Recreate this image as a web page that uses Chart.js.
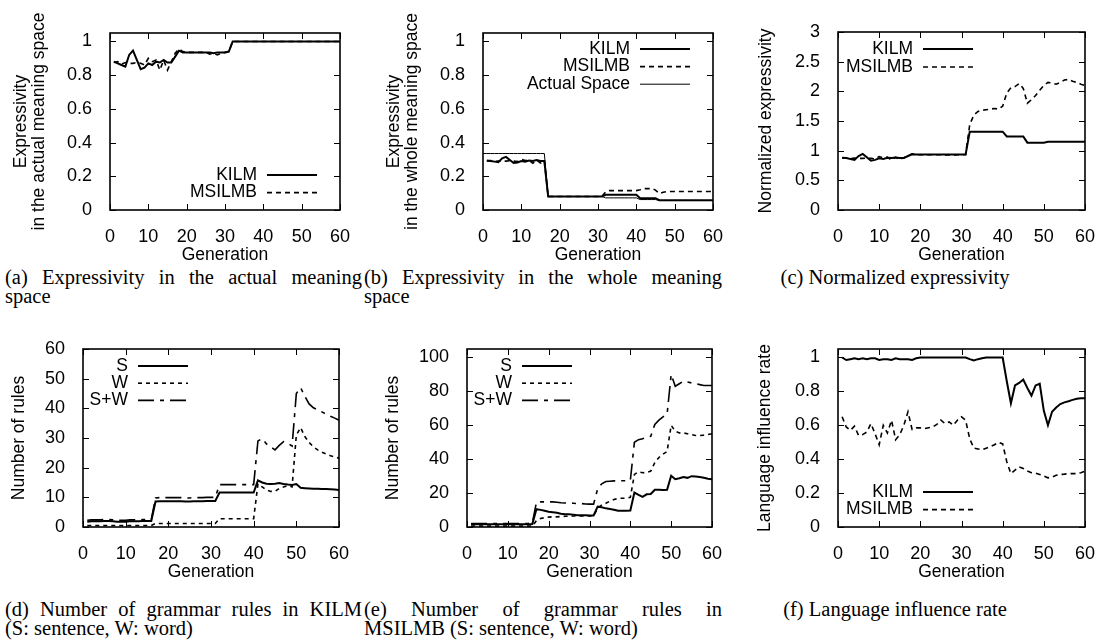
<!DOCTYPE html>
<html>
<head>
<meta charset="utf-8">
<script src="https://cdn.jsdelivr.net/npm/chart.js@4.4.0/dist/chart.umd.min.js"></script>
<style>
  body { margin: 0; background: #fff; width: 1098px; height: 642px; position: relative; overflow: hidden; }
  .panel { position: absolute; }
  .cap { position: absolute; font-family: "Liberation Serif", "Times New Roman", serif; font-size: 20.5px; line-height: 19px; color: #000; }
  .just { text-align: justify; text-align-last: justify; }
</style>
</head>
<body>

<div class="cap" style="left:5px; top:268px; width:357px;">
  <div class="just">(a) Expressivity in the actual meaning</div>
  <div>space</div>
</div>
<div class="cap" style="left:364px; top:268px; width:358px;">
  <div class="just">(b) Expressivity in the whole meaning</div>
  <div>space</div>
</div>
<div class="cap" style="left:732px; top:268px; width:326px; text-align:center;">
  <div>(c) Normalized expressivity</div>
</div>
<div class="cap" style="left:5px; top:600px; width:357px;">
  <div class="just">(d) Number of grammar rules in KILM</div>
  <div>(S: sentence, W: word)</div>
</div>
<div class="cap" style="left:364px; top:600px; width:358px;">
  <div class="just">(e) Number of grammar rules in</div>
  <div>MSILMB (S: sentence, W: word)</div>
</div>
<div class="cap" style="left:732px; top:600px; width:326px; text-align:center;">
  <div>(f) Language influence rate</div>
</div>

<script>
const FONT = "'Liberation Sans', Arial, sans-serif";
const TEXT = 17.5;
const TICK = 18;

// x values
const generations = [1, 2, 3, 4, 5, 6, 7, 8, 9, 10, 11, 12, 13, 14, 15, 16, 17, 18, 19, 20,
  21, 22, 23, 24, 25, 26, 27, 28, 29, 30, 31, 32, 33, 34, 35, 36, 37, 38, 39, 40,
  41, 42, 43, 44, 45, 46, 47, 48, 49, 50, 51, 52, 53, 54, 55, 56, 57, 58, 59, 60];
const actualGenerations = [0, 1, 2, 3, 4, 5, 6, 7, 8, 9, 10, 11, 12, 13, 14, 15, 16, 17, 18, 19, 20,
  21, 22, 23, 24, 25, 26, 27, 28, 29, 30, 31, 32, 33, 34, 35, 36, 37, 38, 39, 40,
  41, 42, 43, 44, 45, 46, 47, 48, 49, 50, 51, 52, 53, 54, 55, 56, 57, 58, 59, 60];

// (a) expressivity in the actual meaning space
const kilmActual = [0.88, 0.87, 0.86, 0.85, 0.92, 0.945, 0.89, 0.835, 0.845, 0.87,
  0.86, 0.88, 0.875, 0.89, 0.875, 0.875, 0.91, 0.945, 0.935, 0.935,
  0.935, 0.935, 0.935, 0.935, 0.935, 0.935, 0.93, 0.935, 0.935, 0.935,
  0.94, 1, 1, 1, 1, 1, 1, 1, 1, 1,
  1, 1, 1, 1, 1, 1, 1, 1, 1, 1,
  1, 1, 1, 1, 1, 1, 1, 1, 1, 1];
const msilmbActual = [0.875, 0.88, 0.865, 0.875, 0.87, 0.87, 0.875, 0.87, 0.86, 0.9,
  0.88, 0.89, 0.83, 0.89, 0.83, 0.88, 0.93, 0.955, 0.94, 0.935,
  0.935, 0.935, 0.935, 0.935, 0.935, 0.925, 0.93, 0.92, 0.93, 0.935,
  0.94, 1, 1, 1, 1, 1, 1, 1, 1, 1,
  1, 1, 1, 1, 1, 1, 1, 1, 1, 1,
  1, 1, 1, 1, 1, 1, 1, 1, 1, 1];

// (b) expressivity in the whole meaning space
const kilmWhole = [0.293, 0.29, 0.287, 0.283, 0.307, 0.315, 0.297, 0.279, 0.282, 0.29,
  0.287, 0.293, 0.291, 0.297, 0.291, 0.291, 0.08, 0.08, 0.08, 0.08,
  0.08, 0.08, 0.08, 0.08, 0.08, 0.08, 0.08, 0.08, 0.08, 0.08,
  0.08, 0.09, 0.09, 0.09, 0.09, 0.09, 0.09, 0.09, 0.09, 0.09,
  0.07, 0.07, 0.07, 0.07, 0.07, 0.058, 0.058, 0.058, 0.058, 0.058,
  0.058, 0.058, 0.058, 0.058, 0.058, 0.058, 0.058, 0.058, 0.058, 0.058];
const msilmbWhole = [0.291, 0.293, 0.288, 0.291, 0.29, 0.29, 0.292, 0.29, 0.287, 0.3,
  0.293, 0.296, 0.277, 0.296, 0.278, 0.293, 0.08, 0.08, 0.08, 0.08,
  0.08, 0.08, 0.08, 0.08, 0.08, 0.08, 0.08, 0.08, 0.08, 0.08,
  0.08, 0.108, 0.115, 0.115, 0.115, 0.115, 0.115, 0.115, 0.115, 0.115,
  0.12, 0.127, 0.127, 0.127, 0.118, 0.098, 0.105, 0.11, 0.11, 0.11,
  0.11, 0.11, 0.11, 0.11, 0.11, 0.11, 0.11, 0.11, 0.11, 0.11];
const actualSpace = [0.335, 0.335, 0.335, 0.335, 0.335, 0.335, 0.335, 0.335, 0.335, 0.335,
  0.335, 0.335, 0.335, 0.335, 0.335, 0.335, 0.335, 0.08, 0.08, 0.08,
  0.08, 0.08, 0.08, 0.08, 0.08, 0.08, 0.08, 0.08, 0.08, 0.08,
  0.08, 0.08, 0.072, 0.072, 0.072, 0.072, 0.072, 0.072, 0.072, 0.072,
  0.072, 0.062, 0.062, 0.062, 0.062, 0.062, 0.056, 0.056, 0.056, 0.056,
  0.056, 0.056, 0.056, 0.056, 0.056, 0.056, 0.056, 0.056, 0.056, 0.056, 0.056];

// (c) normalized expressivity
const kilmNorm = [0.88, 0.875, 0.86, 0.845, 0.91, 0.945, 0.89, 0.83, 0.845, 0.87,
  0.86, 0.88, 0.875, 0.885, 0.875, 0.875, 0.91, 0.94, 0.935, 0.935,
  0.935, 0.935, 0.935, 0.935, 0.935, 0.935, 0.935, 0.935, 0.935, 0.935,
  0.935, 1.32, 1.32, 1.32, 1.32, 1.32, 1.32, 1.32, 1.32, 1.32,
  1.24, 1.24, 1.24, 1.24, 1.24, 1.135, 1.135, 1.135, 1.135, 1.135,
  1.15, 1.15, 1.15, 1.15, 1.15, 1.15, 1.15, 1.15, 1.15, 1.15];
const msilmbNorm = [0.875, 0.88, 0.865, 0.875, 0.87, 0.87, 0.875, 0.87, 0.86, 0.9,
  0.88, 0.89, 0.84, 0.89, 0.85, 0.88, 0.92, 0.945, 0.93, 0.93,
  0.93, 0.93, 0.93, 0.93, 0.93, 0.925, 0.93, 0.92, 0.93, 0.93,
  0.935, 1.44, 1.6, 1.66, 1.68, 1.69, 1.7, 1.71, 1.7, 1.75,
  1.97, 2.06, 2.08, 2.13, 2.05, 1.8, 1.86, 1.93, 2.02, 2.1,
  2.15, 2.14, 2.12, 2.15, 2.19, 2.2, 2.17, 2.15, 2.12, 2.1];

// (d) grammar rules in KILM
const kilmS = [1.8, 1.9, 1.9, 1.9, 2.0, 2.0, 1.9, 1.8, 1.8, 1.8,
  1.9, 1.9, 1.9, 2.0, 2.0, 2.0, 8.6, 8.7, 8.7, 8.7,
  8.7, 8.7, 8.7, 8.6, 8.6, 8.7, 8.7, 8.7, 8.8, 8.8,
  8.8, 11.6, 11.6, 11.6, 11.6, 11.6, 11.6, 11.6, 11.6, 11.6,
  15.7, 15.0, 14.6, 14.5, 14.6, 14.8, 14.5, 14.3, 14.2, 14.5,
  13.2, 13.1, 13.0, 12.9, 12.9, 12.8, 12.8, 12.7, 12.6, 12.5];
const kilmW = [0.5, 0.5, 0.5, 0.5, 0.5, 0.5, 0.5, 0.5, 0.5, 0.5,
  0.5, 0.5, 0.5, 0.5, 0.5, 0.5, 1.2, 1.2, 1.2, 1.2,
  1.2, 1.2, 1.2, 1.2, 1.2, 1.2, 1.2, 1.2, 1.2, 1.2,
  1.2, 2.8, 2.8, 2.8, 2.8, 2.8, 2.8, 2.8, 2.8, 2.8,
  14.5, 13.5, 12.5, 12.0, 12.0, 13.0, 13.5, 14.0, 13.5, 31.0,
  33.5, 30.5, 28.5, 27.0, 26.0, 25.2, 24.6, 24.0, 23.6, 23.2];
const kilmSW = [2.3, 2.4, 2.4, 2.4, 2.5, 2.5, 2.4, 2.3, 2.3, 2.3,
  2.4, 2.4, 2.4, 2.5, 2.5, 2.5, 9.8, 9.9, 9.9, 9.9,
  9.9, 9.9, 9.9, 9.8, 9.8, 9.9, 9.9, 9.9, 10.0, 10.0,
  10.0, 14.3, 14.3, 14.3, 14.3, 14.3, 14.3, 14.3, 14.3, 14.3,
  29.0, 29.8, 28.0, 27.0, 26.0, 27.5, 28.8, 28.2, 27.3, 45.0,
  47.0, 44.0, 41.5, 40.2, 39.5, 38.8, 38.0, 37.3, 36.7, 36.0];

// (e) grammar rules in MSILMB
const msilmbS = [1.6, 1.6, 1.6, 1.6, 1.6, 1.6, 1.6, 1.6, 1.6, 1.6,
  1.6, 1.6, 1.6, 1.6, 1.6, 1.8, 10.5, 10.1, 9.6, 9.0,
  8.7, 8.4, 7.8, 7.5, 7.5, 7.3, 7.0, 7.0, 6.9, 6.8,
  6.8, 12.0, 11.6, 11.0, 10.6, 10.2, 9.6, 9.6, 9.6, 9.7,
  20.3, 19.0, 17.8, 19.3, 19.5, 22.0, 22.0, 21.8, 22.0, 30.2,
  28.2, 28.8, 29.5, 29.0, 30.0, 29.8, 29.5, 29.0, 28.5, 28.2];
const msilmbW = [0.5, 0.5, 0.5, 0.5, 0.5, 0.5, 0.5, 0.5, 0.5, 0.5,
  0.5, 0.5, 0.5, 0.5, 0.5, 0.5, 3.8, 5.0, 5.5, 5.8,
  6.0, 6.0, 6.2, 6.3, 6.3, 6.5, 6.5, 6.5, 6.5, 6.5,
  6.5, 11.0, 13.0, 14.0, 15.2, 16.2, 16.8, 17.0, 17.0, 17.5,
  31.0, 32.6, 32.0, 32.2, 33.0, 38.0, 41.0, 43.0, 44.5, 60.0,
  56.5, 55.5, 55.5, 55.0, 54.5, 54.0, 54.0, 54.2, 54.5, 55.0];
const msilmbSW = [2.1, 2.1, 2.1, 2.1, 2.1, 2.1, 2.1, 2.1, 2.1, 2.1,
  2.1, 2.1, 2.1, 2.1, 2.1, 2.3, 14.5, 14.8, 14.8, 14.8,
  14.8, 14.6, 14.3, 14.2, 14.2, 14.0, 13.8, 13.8, 13.6, 13.5,
  13.5, 22.5, 25.5, 26.8, 27.0, 27.2, 27.2, 27.3, 27.3, 27.5,
  50.0, 51.5, 52.0, 53.0, 53.5, 60.5, 63.0, 65.0, 66.5, 90.0,
  83.0, 84.5, 86.0, 85.5, 85.0, 84.5, 84.0, 83.5, 83.5, 83.5];

// (f) language influence rate
const kilmInfluence = [1.0, 0.985, 0.99, 0.995, 0.99, 0.995, 0.99, 0.995, 0.995, 0.985,
  0.99, 0.99, 0.985, 0.995, 0.99, 0.99, 0.99, 0.985, 0.995, 1.0,
  1.0, 1.0, 1.0, 1.0, 1.0, 1.0, 1.0, 1.0, 1.0, 1.0,
  1.0, 0.99, 0.982, 0.99, 0.995, 1.0, 1.0, 1.0, 1.0, 1.0,
  0.86, 0.73, 0.835, 0.85, 0.87, 0.82, 0.775, 0.835, 0.845, 0.685,
  0.6, 0.68, 0.705, 0.725, 0.735, 0.742, 0.75, 0.757, 0.76, 0.76];
const msilmbInfluence = [0.65, 0.59, 0.57, 0.595, 0.54, 0.545, 0.56, 0.61, 0.55, 0.485,
  0.6, 0.555, 0.63, 0.515, 0.545, 0.6, 0.68, 0.575, 0.585, 0.585,
  0.58, 0.585, 0.59, 0.605, 0.63, 0.61, 0.62, 0.6, 0.63, 0.65,
  0.63, 0.52, 0.465, 0.46, 0.455, 0.465, 0.475, 0.485, 0.5, 0.49,
  0.385, 0.315, 0.335, 0.355, 0.345, 0.33, 0.32, 0.318, 0.31, 0.3,
  0.29, 0.295, 0.305, 0.31, 0.312, 0.315, 0.315, 0.315, 0.32, 0.33];

function pts(xs, ys) {
  return ys.map((v, i) => ({x: xs[i], y: v}));
}

function line(label, xs, ys, width, dash) {
  return {
    label: label,
    data: pts(xs, ys),
    borderColor: '#000',
    borderWidth: width,
    borderDash: dash || [],
    pointRadius: 0,
    tension: 0,
    fill: false
  };
}

// gnuplot style box with inward ticks on all sides
const gnuFrame = {
  id: 'gnuFrame',
  afterDatasetsDraw(chart) {
    const {ctx, chartArea: a, scales: {x, y}} = chart;
    const t = 6;
    ctx.save();
    ctx.strokeStyle = '#000';
    ctx.setLineDash([]);
    ctx.lineWidth = 1;
    ctx.beginPath();
    x.ticks.forEach(tk => {
      const px = Math.round(x.getPixelForValue(tk.value)) + 0.5;
      ctx.moveTo(px, a.bottom); ctx.lineTo(px, a.bottom - t);
      ctx.moveTo(px, a.top); ctx.lineTo(px, a.top + t);
    });
    y.ticks.forEach(tk => {
      const py = Math.round(y.getPixelForValue(tk.value)) + 0.5;
      ctx.moveTo(a.left, py); ctx.lineTo(a.left + t, py);
      ctx.moveTo(a.right, py); ctx.lineTo(a.right - t, py);
    });
    ctx.stroke();
    ctx.lineWidth = 1.6;
    ctx.strokeRect(a.left, a.top, a.right - a.left, a.bottom - a.top);
    ctx.restore();
  }
};

// key: text right aligned, line sample on its right
const gnuKey = {
  id: 'gnuKey',
  afterDraw(chart, args, opts) {
    if (opts.textRight === undefined) return;
    const {ctx, chartArea: a} = chart;
    ctx.save();
    ctx.font = TEXT + 'px ' + FONT;
    ctx.fillStyle = '#000';
    ctx.textAlign = 'right';
    ctx.textBaseline = 'middle';
    chart.data.datasets.forEach((ds, i) => {
      const xx = a.left + opts.textRight;
      const yy = a.top + opts.top + i * opts.step;
      ctx.fillText(ds.label, xx, yy);
      ctx.beginPath();
      ctx.strokeStyle = ds.borderColor;
      ctx.lineWidth = ds.borderWidth;
      ctx.setLineDash(ds.borderDash);
      ctx.moveTo(xx + 10, yy);
      ctx.lineTo(xx + 60, yy);
      ctx.stroke();
    });
    ctx.restore();
  }
};

const PAD_TOP = 24;
const X_AXIS_H = 60;

function panel(p) {
  const titleLH = TEXT * 1.05;
  const left = Math.round(p.titleX - titleLH / 2);
  const top = p.box.T - PAD_TOP;
  const yW = p.box.L - left;
  const width = p.box.R - left + 22;
  const height = p.box.B - top + X_AXIS_H;

  const div = document.createElement('div');
  div.className = 'panel';
  div.style.left = left + 'px';
  div.style.top = top + 'px';
  div.style.width = width + 'px';
  div.style.height = height + 'px';
  const cv = document.createElement('canvas');
  div.appendChild(cv);
  document.body.appendChild(div);

  new Chart(cv, {
    type: 'line',
    data: {datasets: p.datasets},
    plugins: [gnuFrame, gnuKey],
    options: {
      animation: false,
      responsive: true,
      maintainAspectRatio: false,
      events: [],
      layout: {padding: {top: PAD_TOP, right: 22, left: 0, bottom: 0}},
      plugins: {
        legend: {display: false},
        tooltip: {enabled: false},
        gnuKey: p.key
      },
      scales: {
        x: {
          type: 'linear',
          min: 0,
          max: 60,
          grid: {display: false},
          border: {display: false},
          ticks: {stepSize: 10, padding: 8.2, maxRotation: 0, autoSkip: false, color: '#000',
            font: {family: FONT, size: TICK}},
          title: {display: true, text: 'Generation', color: '#000',
            font: {family: FONT, size: TEXT}, padding: {top: 0, bottom: 4.5}},
          afterFit: s => { s.height = X_AXIS_H; }
        },
        y: {
          type: 'linear',
          min: 0,
          max: p.yMax,
          grid: {display: false},
          border: {display: false},
          ticks: {stepSize: p.yStep, includeBounds: false, padding: 10, color: '#000',
            font: {family: FONT, size: TICK},
            callback: v => String(Number(v.toFixed(2)))},
          title: {display: true, text: p.yTitle, color: '#000',
            font: {family: FONT, size: TEXT, lineHeight: 1.05}, padding: 0},
          afterFit: s => { s.width = yW; }
        }
      }
    }
  });
}

panel({
  box: {L: 110, T: 33, R: 340, B: 210},
  titleX: 21,
  yTitle: ['Expressivity', 'in the actual meaning space'],
  yMax: 1.05, yStep: 0.2,
  key: {textRight: 147, top: 142, step: 17.6},
  datasets: [
    line('KILM', generations, kilmActual, 2),
    line('MSILMB', generations, msilmbActual, 1.6, [5, 4])
  ]
});

panel({
  box: {L: 483, T: 33, R: 713, B: 210},
  titleX: 394,
  yTitle: ['Expressivity', 'in the whole meaning space'],
  yMax: 1.05, yStep: 0.2,
  key: {textRight: 147, top: 16, step: 17.6},
  datasets: [
    line('KILM', generations, kilmWhole, 2),
    line('MSILMB', generations, msilmbWhole, 1.6, [5, 4]),
    line('Actual Space', actualGenerations, actualSpace, 1)
  ]
});

panel({
  box: {L: 838, T: 32, R: 1085, B: 210},
  titleX: 766,
  yTitle: 'Normalized expressivity',
  yMax: 3, yStep: 0.5,
  key: {textRight: 75, top: 17, step: 18},
  datasets: [
    line('KILM', generations, kilmNorm, 2),
    line('MSILMB', generations, msilmbNorm, 1.6, [5, 4])
  ]
});

panel({
  box: {L: 83, T: 349, R: 339, B: 527},
  titleX: 19,
  yTitle: 'Number of rules',
  yMax: 60, yStep: 10,
  key: {textRight: 45, top: 17, step: 17.2},
  datasets: [
    line('S', generations, kilmS, 2),
    line('W', generations, kilmW, 1.6, [4, 4]),
    line('S+W', generations, kilmSW, 1.6, [16, 6, 4, 6])
  ]
});

panel({
  box: {L: 467, T: 349, R: 712, B: 527},
  titleX: 393,
  yTitle: 'Number of rules',
  yMax: 105, yStep: 20,
  key: {textRight: 45, top: 17, step: 17.2},
  datasets: [
    line('S', generations, msilmbS, 2),
    line('W', generations, msilmbW, 1.6, [4, 4]),
    line('S+W', generations, msilmbSW, 1.6, [16, 6, 4, 6])
  ]
});

panel({
  box: {L: 838, T: 349, R: 1085, B: 527},
  titleX: 765,
  yTitle: 'Language influence rate',
  yMax: 1.05, yStep: 0.2,
  key: {textRight: 75, top: 143, step: 17.6},
  datasets: [
    line('KILM', generations, kilmInfluence, 2),
    line('MSILMB', generations, msilmbInfluence, 1.6, [5, 4])
  ]
});
</script>
</body>
</html>
